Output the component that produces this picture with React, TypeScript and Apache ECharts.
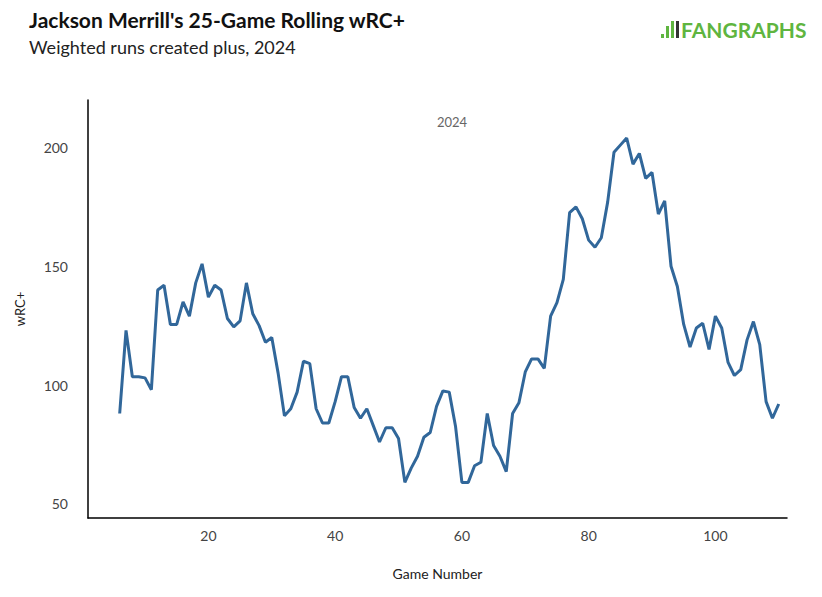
import { useEffect, useRef } from 'react'
import * as echarts from 'echarts'

const games: number[] = Array.from({ length: 105 }, (_, i) => i + 6)
const wrcPlus: number[] = [
  88, 123, 103.5, 103.5, 103, 98, 140, 142, 125.5, 125.5,
  135, 129, 143, 151, 137, 142, 140, 128, 124.5, 127,
  143, 130, 125, 118, 120, 105, 87, 90, 97, 110,
  109, 90, 84, 84, 93, 103.5, 103.5, 90.5, 86, 90,
  83, 76, 82, 82, 77.5, 59, 65, 70, 78, 80,
  91, 97.5, 97, 82.5, 59, 59, 66, 67.5, 88, 74.5,
  70, 63.5, 88, 92.5, 105.5, 111, 111, 107, 129, 134.7,
  144.5, 172.6, 175, 170, 161, 158, 162, 177, 198, 201,
  204, 193, 197.5, 187, 189.5, 172, 177.5, 150, 141.5, 125.5,
  116, 124, 126, 115, 129, 124, 109.5, 104, 106.5, 119,
  126.7, 117, 93, 86, 92,
]
const xTicks = [20, 40, 60, 80, 100]
const yTicks = [50, 100, 150, 200]

const FONT = 'Lato, "Noto Sans", sans-serif'

export default function App() {
  const ref = useRef<HTMLDivElement>(null)

  useEffect(() => {
    if (!ref.current) return
    const chart = echarts.init(ref.current, undefined, { renderer: 'svg' })
    const option: echarts.EChartsOption = {
      animation: false,
      backgroundColor: '#fff',
      grid: { left: 80, right: 27, top: 92, bottom: 71, outerBoundsMode: 'none' } as any,
      title: [
        {
          text: "Jackson Merrill's 25-Game Rolling wRC+",
          left: 16,
          top: -4,
          textStyle: { fontFamily: FONT, fontSize: 21, fontWeight: 'bold', color: '#111' },
        },
        {
          text: 'Weighted runs created plus, 2024',
          left: 16,
          top: 25,
          textStyle: { fontFamily: FONT, fontSize: 18, fontWeight: 'normal', color: '#222' },
        },
        {
          text: '2024',
          left: 439,
          top: 102,
          textAlign: 'center',
          textStyle: { fontFamily: FONT, fontSize: 13, fontWeight: 'normal', color: '#666' },
        },
      ],
      graphic: [
        { type: 'rect', shape: { x: 653, y: 26, width: 3, height: 4 }, style: { fill: '#5fb540' } },
        { type: 'rect', shape: { x: 658, y: 18, width: 3, height: 12 }, style: { fill: '#5fb540' } },
        { type: 'rect', shape: { x: 663, y: 13, width: 3, height: 17 }, style: { fill: '#5fb540' } },
        { type: 'rect', shape: { x: 668, y: 13, width: 3, height: 17 }, style: { fill: '#333' } },
        {
          type: 'text',
          x: 673,
          y: 11,
          style: {
            text: 'FANGRAPHS',
            fill: '#5fb540',
            font: 'bold 21px ' + FONT,
          },
        },
      ],
      xAxis: {
        type: 'value',
        min: 1,
        max: 111.3,
        name: 'Game Number',
        nameLocation: 'middle',
        nameGap: 48,
        nameTextStyle: { fontFamily: FONT, fontSize: 14, color: '#222' },
        axisLine: { lineStyle: { color: '#000', width: 1.5 } },
        axisTick: { show: false },
        splitLine: { show: false },
        axisLabel: {
          fontFamily: FONT,
          fontSize: 14,
          color: '#444',
          margin: 10,
          customValues: xTicks,
        },
      },
      yAxis: {
        type: 'value',
        min: 44,
        max: 220,
        name: 'wRC+',
        nameLocation: 'middle',
        nameGap: 62,
        nameTextStyle: { fontFamily: FONT, fontSize: 13, color: '#222' },
        axisLine: { show: true, lineStyle: { color: '#000', width: 1.5 } },
        axisTick: { show: false },
        splitLine: { show: false },
        axisLabel: {
          fontFamily: FONT,
          fontSize: 14,
          color: '#444',
          margin: 20,
          customValues: yTicks,
        },
      },
      series: [
        {
          type: 'line',
          data: games.map((g, i) => [g, wrcPlus[i]]),
          showSymbol: false,
          lineStyle: { color: '#31679a', width: 3 },
        },
      ],
    }
    chart.setOption(option)
    return () => chart.dispose()
  }, [])

  return <div ref={ref} style={{ width: 806, height: 581 }} />
}
